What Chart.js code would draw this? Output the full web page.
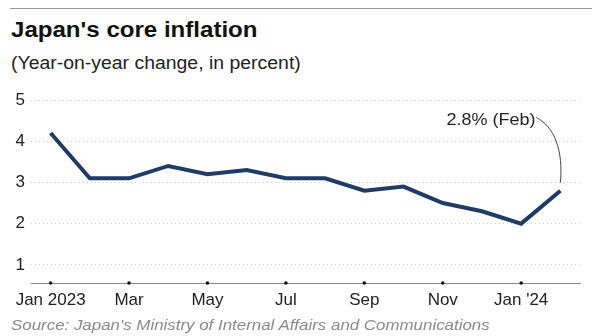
<!DOCTYPE html>
<html>
<head>
<meta charset="utf-8">
<script src="https://cdn.jsdelivr.net/npm/chart.js"></script>
<style>
  html, body { margin: 0; padding: 0; background: #fff; }
  #wrap { position: relative; width: 600px; height: 336px; overflow: hidden; font-family: "Liberation Sans", Arial, sans-serif; }
  #rule { position: absolute; left: 10px; right: 8px; top: 8px; height: 0; border-top: 1px solid #9a9a9a; }
  .txt { position: absolute; left: 11px; line-height: 1; white-space: nowrap; transform-origin: 0 0; }
  #title { top: 19px; font-size: 22.5px; font-weight: bold; color: #111; transform: scaleX(1.07); }
  #sub { top: 55px; font-size: 17.5px; color: #222; transform: scaleX(1.11); }
  #source { top: 317px; font-size: 15.5px; font-style: italic; color: #8a8a8a; transform: scaleX(1.09); }
  canvas { position: absolute; left: 0; top: 0; }
</style>
</head>
<body>
<div id="wrap">
  <div id="rule"></div>
  <div class="txt" id="title">Japan's core inflation</div>
  <div class="txt" id="sub">(Year-on-year change, in percent)</div>
  <canvas id="chart" width="600" height="336"></canvas>
  <div class="txt" id="source">Source: Japan's Ministry of Internal Affairs and Communications</div>
</div>
<script>
// monthly core CPI, Jan 2023 - Feb 2024
const months = ['Jan 2023', 'Feb', 'Mar', 'Apr', 'May', 'Jun', 'Jul', 'Aug', 'Sep', 'Oct', 'Nov', 'Dec', "Jan '24", 'Feb'];
const coreCpi = [4.2, 3.1, 3.1, 3.4, 3.2, 3.3, 3.1, 3.1, 2.8, 2.9, 2.5, 2.3, 2.0, 2.8];
const yTicks = [1, 2, 3, 4, 5];
const calloutText = '2.8% (Feb)';

const FONT = '"Liberation Sans", Arial, sans-serif';

// dots on the x axis line + the curved callout for the last point
const extras = {
  id: 'extras',
  afterDatasetsDraw(chart) {
    const { ctx, scales: { x, y } } = chart;
    const axisY = chart.chartArea.bottom;
    ctx.save();
    ctx.fillStyle = '#111';
    for (let i = 0; i < months.length; i += 2) {
      ctx.beginPath();
      ctx.arc(x.getPixelForValue(i), axisY, 1.8, 0, Math.PI * 2);
      ctx.fill();
    }

    const last = coreCpi.length - 1;
    const px = x.getPixelForValue(last);
    const py = y.getPixelForValue(coreCpi[last]);
    const ty = y.getPixelForValue(4.5);
    const tx = px - 25;

    // label, slightly widened like the other text
    ctx.font = '16.5px ' + FONT;
    ctx.fillStyle = '#222';
    ctx.textAlign = 'right';
    ctx.textBaseline = 'middle';
    ctx.save();
    ctx.translate(tx, ty);
    ctx.scale(1.09, 1);
    ctx.fillText(calloutText, 0, 0);
    ctx.restore();

    ctx.strokeStyle = '#444';
    ctx.lineWidth = 1;
    ctx.beginPath();
    ctx.moveTo(tx + 1, ty - 3);
    ctx.bezierCurveTo(px - 6, ty + 6, px + 3, ty + 30, px, py - 8);
    ctx.stroke();
    ctx.restore();
  }
};

new Chart(document.getElementById('chart'), {
  type: 'line',
  data: {
    labels: months,
    datasets: [{
      data: coreCpi,
      borderColor: '#1f3c66',
      borderWidth: 4,
      pointRadius: 0,
      tension: 0,
      borderJoinStyle: 'miter'
    }]
  },
  options: {
    responsive: false,
    animation: false,
    layout: { padding: { top: 100, right: 20, bottom: 0, left: 0 } },
    plugins: { legend: { display: false }, tooltip: { enabled: false } },
    scales: {
      x: {
        offset: true,
        grid: { display: false, drawTicks: false },
        border: { color: '#888', width: 1 },
        ticks: {
          autoSkip: false,
          maxRotation: 0,
          padding: 7,
          color: '#222',
          font: { family: FONT, size: 17 },
          callback: (v, i) => (i % 2 === 0 ? months[i] : '')
        },
        afterFit(scale) { scale.height = 53; }
      },
      y: {
        min: 0.56,
        max: 5,
        afterBuildTicks(scale) { scale.ticks = yTicks.map(v => ({ value: v })); },
        grid: { color: '#c8c8c8', drawTicks: false, lineWidth: 1 },
        border: { display: false, dash: [1, 3] },
        ticks: {
          padding: 6,
          color: '#222',
          font: { family: FONT, size: 17 }
        },
        afterFit(scale) { scale.width = 31; }
      }
    }
  },
  plugins: [extras]
});
</script>
</body>
</html>
